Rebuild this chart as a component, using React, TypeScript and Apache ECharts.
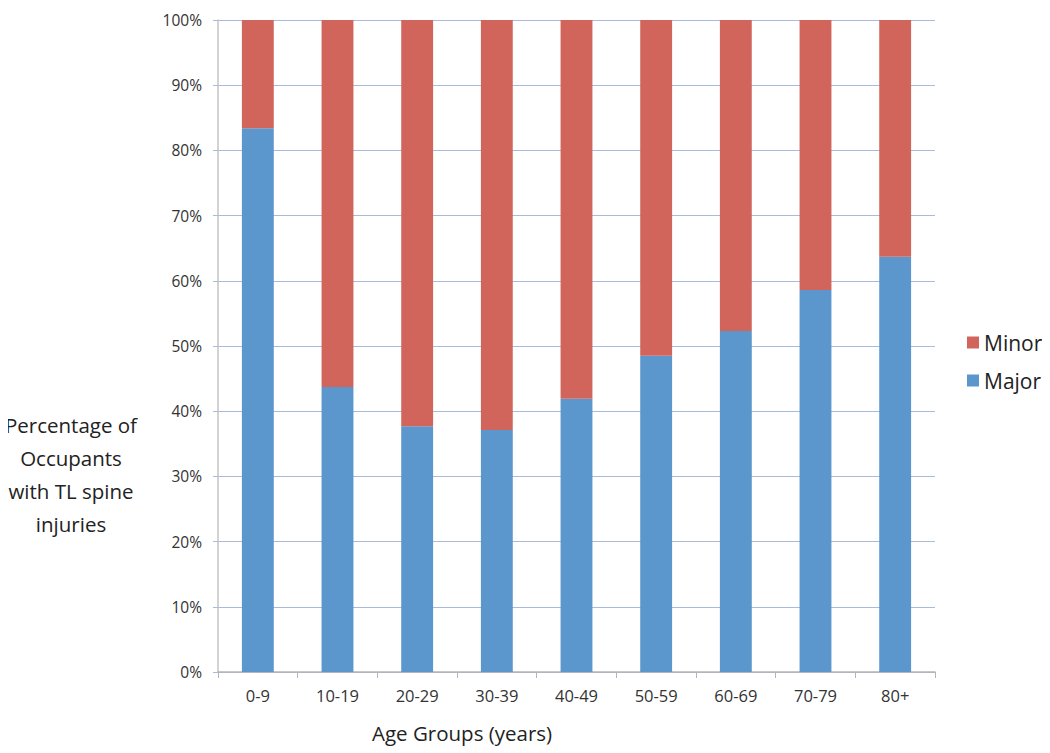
import React, { useEffect, useRef } from "react";
import * as echarts from "echarts";

const categories = ["0-9", "10-19", "20-29", "30-39", "40-49", "50-59", "60-69", "70-79", "80+"];
const majorValues = [83.4, 43.7, 37.7, 37.1, 41.9, 48.5, 52.3, 58.6, 63.7];
const minorValues = majorValues.map((v) => +(100 - v).toFixed(1));
const yTicks = [0, 10, 20, 30, 40, 50, 60, 70, 80, 90, 100];

const FONT = "'Open Sans', 'Noto Sans', sans-serif";

export default function App() {
  const ref = useRef<HTMLDivElement>(null);
  useEffect(() => {
    if (!ref.current) return;
    const chart = echarts.init(ref.current, undefined, { renderer: "svg" });
    chart.setOption({
      animation: false,
      backgroundColor: "#ffffff",
      grid: { left: 218, right: 115, top: 20, bottom: 81, containLabel: false },
      legend: {
        orient: "vertical",
        left: 962,
        top: 327,
        itemWidth: 12,
        itemHeight: 12,
        itemGap: 17,
        icon: "rect",
        data: ["Minor", "Major"],
        textStyle: { fontFamily: FONT, fontSize: 21, color: "#222" },
      },
      xAxis: {
        type: "category",
        data: categories,
        axisLine: { show: true, lineStyle: { color: "#b5b5b5", width: 1.5 } },
        axisTick: { show: true, alignWithLabel: false, length: 6, lineStyle: { color: "#b5b5b5" } },
        axisLabel: { margin: 15, fontFamily: FONT, fontSize: 16.5, color: "#333" },
        splitLine: { show: false },
      },
      yAxis: {
        type: "value",
        min: yTicks[0],
        max: yTicks[yTicks.length - 1],
        interval: 10,
        axisLine: { show: true, lineStyle: { color: "#c4c4c4", width: 1.5 } },
        axisTick: { show: true, length: 5, lineStyle: { color: "#a9bbdc" } },
        axisLabel: {
          margin: 16,
          fontFamily: FONT,
          fontSize: 15.5,
          color: "#333",
          formatter: (v: number) => `${v}%`,
        },
        splitLine: { show: true, lineStyle: { color: "#a9bbdc", width: 1.2 } },
      },
      series: [
        {
          name: "Major",
          type: "bar",
          stack: "total",
          data: majorValues,
          barWidth: "40%",
          itemStyle: { color: "#5b96cd" },
        },
        {
          name: "Minor",
          type: "bar",
          stack: "total",
          data: minorValues,
          barWidth: "40%",
          itemStyle: { color: "#d1655c" },
        },
      ],
      graphic: [
        {
          type: "text",
          x: 71,
          y: 408,
          style: {
            text: "Percentage of\nOccupants\nwith TL spine\ninjuries",
            fontFamily: FONT,
            fontSize: 20.5,
            lineHeight: 33,
            fill: "#222",
            textAlign: "center",
            textVerticalAlign: "top",
          },
        },
        {
          type: "text",
          x: 372,
          y: 722,
          style: {
            text: "Age Groups (years)",
            fontFamily: FONT,
            fontSize: 20.5,
            fill: "#222",
            textVerticalAlign: "top",
          },
        },
      ],
    });
    return () => chart.dispose();
  }, []);
  return <div ref={ref} style={{ width: 1050, height: 753, marginLeft: -8, marginTop: -8 }} />;
}
